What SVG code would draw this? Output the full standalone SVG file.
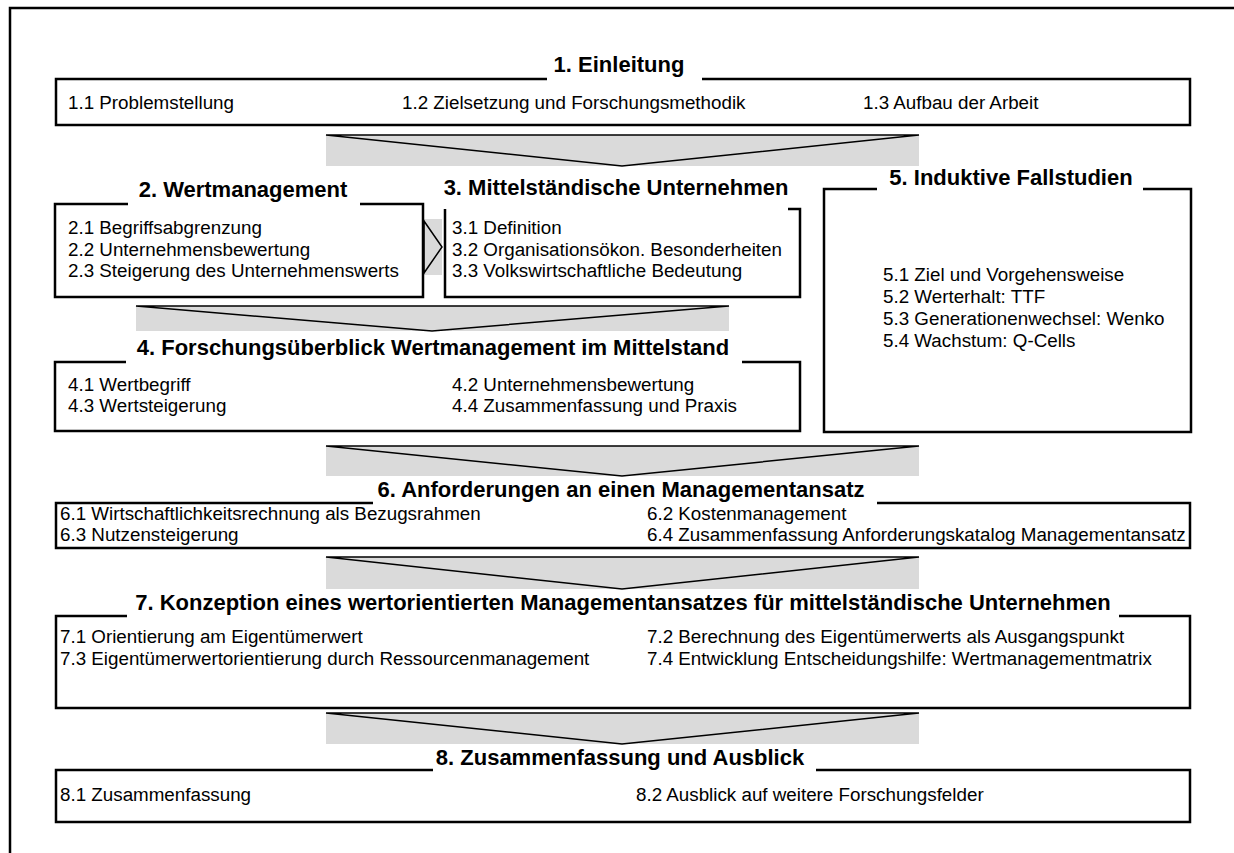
<svg xmlns="http://www.w3.org/2000/svg" width="1234" height="853" viewBox="0 0 1234 853">
  <style>
    .frame { fill: none; stroke: #000; stroke-width: 2.5; }
    .box { fill: none; stroke: #000; stroke-width: 2.5; stroke-linejoin: miter; }
    .title { font-family: "Liberation Sans", Arial, sans-serif; font-weight: bold; font-size: 22px; fill: #000; text-anchor: middle; }
    .item { font-family: "Liberation Sans", Arial, sans-serif; font-size: 18.8px; fill: #000; }
    .band { fill: #dadada; stroke: none; }
    .wedge { fill: none; stroke: #000; stroke-width: 1.5; stroke-linejoin: miter; }
  </style>

  <rect width="1234" height="853" fill="#fff"/>
  <!-- page frame (runs off the right and bottom edge) -->
  <rect class="frame" x="10" y="8" width="1240" height="860"/>

  <!-- flow arrows between chapters -->
  <g id="connectors">
    <g id="arrow-1-2">
      <rect class="band" x="326" y="135" width="593" height="31"/>
      <polygon class="wedge" points="326,135 919,135 622,166"/>
    </g>
    <g id="arrow-2-3">
      <rect class="band" x="423" y="219" width="19" height="56"/>
      <polygon class="wedge" points="424,221 442,247 424,273"/>
    </g>
    <g id="arrow-23-4">
      <rect class="band" x="136" y="306" width="593" height="25"/>
      <polygon class="wedge" points="136,306 729,306 432,331"/>
    </g>
    <g id="arrow-4-6">
      <rect class="band" x="326" y="446" width="593" height="30"/>
      <polygon class="wedge" points="326,446 919,446 622,476"/>
    </g>
    <g id="arrow-6-7">
      <rect class="band" x="326" y="557" width="593" height="32"/>
      <polygon class="wedge" points="326,557 919,557 622,589"/>
    </g>
    <g id="arrow-7-8">
      <rect class="band" x="326" y="713" width="593" height="31"/>
      <polygon class="wedge" points="326,713 919,713 622,744"/>
    </g>
  </g>

  <g id="ch1">
    <path class="box" d="M547,79 H56 V125 H1190 V79 H702"/>
    <text class="title" x="619" y="72">1. Einleitung</text>
    <text class="item" x="68" y="109">1.1 Problemstellung</text>
    <text class="item" x="402" y="109">1.2 Zielsetzung und Forschungsmethodik</text>
    <text class="item" x="863" y="109">1.3 Aufbau der Arbeit</text>
  </g>

  <g id="ch2">
    <path class="box" d="M128,204 H55 V297 H423 V204 H360"/>
    <text class="title" x="243" y="197">2. Wertmanagement</text>
    <text class="item" x="68" y="234">2.1 Begriffsabgrenzung</text>
    <text class="item" x="68" y="255.5">2.2 Unternehmensbewertung</text>
    <text class="item" x="68" y="277">2.3 Steigerung des Unternehmenswerts</text>
  </g>

  <g id="ch3">
    <path class="box" d="M445,209 V297 H800 V209 H788"/>
    <text class="title" x="616" y="195">3. Mittelständische Unternehmen</text>
    <text class="item" x="452" y="234">3.1 Definition</text>
    <text class="item" x="452" y="255.5">3.2 Organisationsökon. Besonderheiten</text>
    <text class="item" x="452" y="277">3.3 Volkswirtschaftliche Bedeutung</text>
  </g>

  <g id="ch4">
    <path class="box" d="M126,362 H55 V431 H800 V362 H742"/>
    <text class="title" x="433" y="355">4. Forschungsüberblick Wertmanagement im Mittelstand</text>
    <text class="item" x="68" y="391">4.1 Wertbegriff</text>
    <text class="item" x="68" y="412">4.3 Wertsteigerung</text>
    <text class="item" x="452" y="391">4.2 Unternehmensbewertung</text>
    <text class="item" x="452" y="412">4.4 Zusammenfassung und Praxis</text>
  </g>

  <g id="ch5">
    <path class="box" d="M877,189 H824 V432 H1191 V189 H1143"/>
    <text class="title" x="1011" y="185">5. Induktive Fallstudien</text>
    <text class="item" x="883" y="281">5.1 Ziel und Vorgehensweise</text>
    <text class="item" x="883" y="303">5.2 Werterhalt: TTF</text>
    <text class="item" x="883" y="325">5.3 Generationenwechsel: Wenko</text>
    <text class="item" x="883" y="347">5.4 Wachstum: Q-Cells</text>
  </g>

  <g id="ch6">
    <path class="box" d="M373,503 H56 V548 H1190 V503 H877"/>
    <text class="title" x="621" y="497">6. Anforderungen an einen Managementansatz</text>
    <text class="item" x="60" y="520">6.1 Wirtschaftlichkeitsrechnung als Bezugsrahmen</text>
    <text class="item" x="60" y="541">6.3 Nutzensteigerung</text>
    <text class="item" x="647" y="520">6.2 Kostenmanagement</text>
    <text class="item" x="647" y="541">6.4 Zusammenfassung Anforderungskatalog Managementansatz</text>
  </g>

  <g id="ch7">
    <path class="box" d="M127,616 H56 V708 H1190 V616 H1119"/>
    <text class="title" x="623" y="610">7. Konzeption eines wertorientierten Managementansatzes für mittelständische Unternehmen</text>
    <text class="item" x="60" y="643">7.1 Orientierung am Eigentümerwert</text>
    <text class="item" x="60" y="665">7.3 Eigentümerwertorientierung durch Ressourcenmanagement</text>
    <text class="item" x="647" y="643">7.2 Berechnung des Eigentümerwerts als Ausgangspunkt</text>
    <text class="item" x="647" y="665">7.4 Entwicklung Entscheidungshilfe: Wertmanagementmatrix</text>
  </g>

  <g id="ch8">
    <path class="box" d="M433,770 H56 V822 H1190 V770 H816"/>
    <text class="title" x="620" y="765">8. Zusammenfassung und Ausblick</text>
    <text class="item" x="60" y="801">8.1 Zusammenfassung</text>
    <text class="item" x="636" y="801">8.2 Ausblick auf weitere Forschungsfelder</text>
  </g>
</svg>
